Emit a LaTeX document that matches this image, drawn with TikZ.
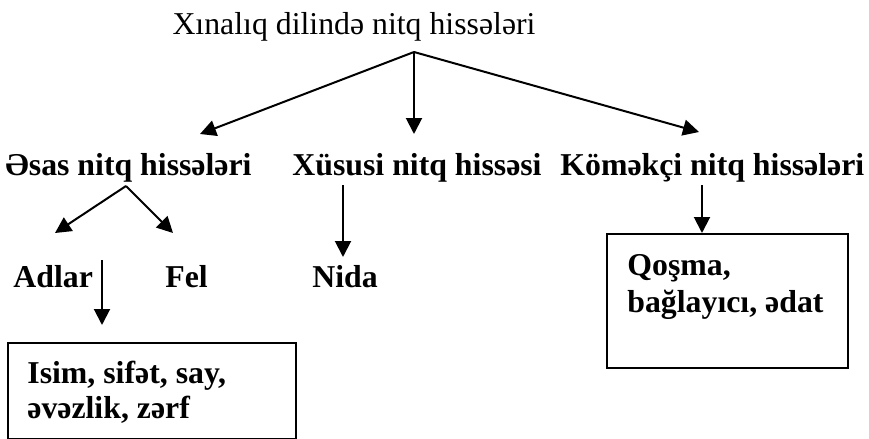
\documentclass[tikz,border=0pt]{standalone}
\usepackage{fontspec}
\setmainfont{Liberation Serif}
\usetikzlibrary{arrows.meta}

\tikzset{
  head/.style={font=\fontsize{15.9}{18}\selectfont, inner sep=0pt},
  part/.style={font=\bfseries\fontsize{15.9}{18}\selectfont, inner sep=0pt, align=left},
  arr/.style={-{Triangle[length=8pt,width=8pt]}, line width=1pt},
  group/.style={draw, line width=1.2pt, inner sep=0pt, anchor=north west}
}

\begin{document}
\begin{tikzpicture}
  [x=0.5pt,y=-0.5pt]
  \useasboundingbox (0,0) rectangle (869,439);

  \node[head,anchor=base] (title) at (354,34) {Xınalıq dilində nitq hissələri};

  \node[part,anchor=base west] (esas) at (5,175) {Əsas nitq hissələri};
  \node[part,anchor=base west] (xususi) at (292,175) {Xüsusi nitq hissəsi};
  \node[part,anchor=base west] (komekci) at (560,175) {Köməkçi nitq hissələri};

  \node[part,anchor=base west] (adlar) at (13,287) {Adlar};
  \node[part,anchor=base west] (fel) at (165,287) {Fel};
  \node[part,anchor=base west] (nida) at (312,287) {Nida};

  \node[group,minimum width=144pt,minimum height=48pt] (abox) at (7,342) {};
  \node[part,anchor=north west] (atext) at (27,361) {Isim, sifət, say,\\[-0.5pt]əvəzlik, zərf};
  \node[group,minimum width=120.5pt,minimum height=67pt] (kbox) at (606,233) {};
  \node[part,anchor=north west] (ktext) at (627,254) {Qoşma,\\[0.5pt]bağlayıcı, ədat};

  % arrow ends
  \coordinate (root) at (414,52);
  \coordinate (t1) at (200,134);
  \coordinate (t2) at (414,134);
  \coordinate (t3) at (699,132);
  \coordinate (efork) at (126,186);
  \coordinate (t4) at (55,233);
  \coordinate (t5) at (173,233);
  \coordinate (xs) at (343,185);
  \coordinate (t6) at (343,257);
  \coordinate (as) at (102,260);
  \coordinate (t7) at (102,325);
  \coordinate (ks) at (702,185);
  \coordinate (t8) at (kbox.north -| ks);

\foreach \from/\to in {root/t1,root/t2,root/t3,efork/t4,efork/t5,xs/t6,as/t7,ks/t8}
    \draw[arr] (\from) -- (\to);

\end{tikzpicture}
\end{document}
